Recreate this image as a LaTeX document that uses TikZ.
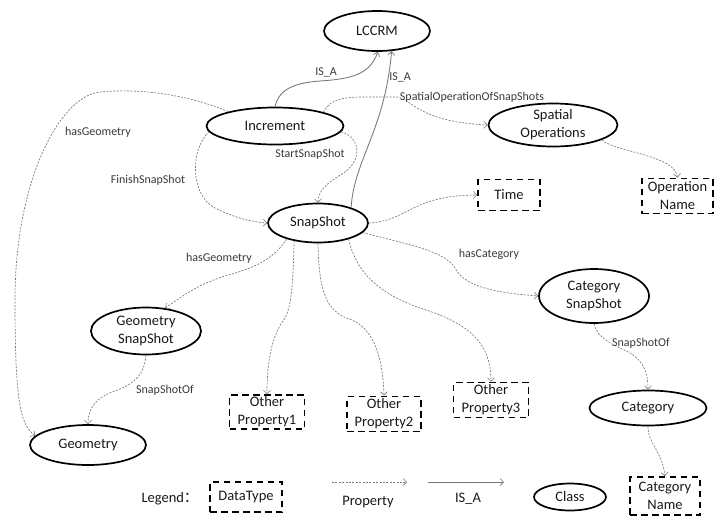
\documentclass[tikz,border=0pt]{standalone}
\usepackage{fontspec}
\setmainfont{Carlito}
\newfontfamily\cjk{Noto Sans CJK SC}
\usetikzlibrary{shapes.geometric,arrows.meta}
\definecolor{edgegray}{HTML}{777777}
\definecolor{labgray}{HTML}{3A3A3A}
\tikzset{
  cls/.style={ellipse, draw=black, line width=1.7pt, inner sep=0pt, align=center,
    font=\fontsize{14.5}{18}\selectfont, text=black!90},
  dtype/.style={rectangle, draw=black, line width=1.7pt, dash pattern=on 6.5pt off 4.5pt,
    inner sep=0pt, align=center, font=\fontsize{14.5}{18}\selectfont, text=black!90},
  prop/.style={draw=edgegray, line width=0.65pt, dash pattern=on 2pt off 1.4pt,
    -{Straight Barb[length=3.5pt,width=7pt,line width=0.6pt]}},
  isa/.style={draw=edgegray, line width=0.85pt,
    -{Straight Barb[length=3.5pt,width=7pt,line width=0.7pt]}},
  elab/.style={font=\fontsize{12}{14}\selectfont, text=labgray, inner sep=0pt},
  leglab/.style={font=\fontsize{14.5}{18}\selectfont, text=black!90, inner sep=0pt},
}
\begin{document}
\begin{tikzpicture}[x=1pt,y=1pt]
\useasboundingbox[fill=white] (0,0) rectangle (716,-515);
% class nodes
\node[cls, minimum width=106pt, minimum height=40pt] (lccrm) at (377,-31) {LCCRM};
\node[cls, minimum width=137pt, minimum height=37pt] (inc) at (275,-126) {Increment};
\node[cls, minimum width=129pt, minimum height=40pt] (spat) at (553,-125) {Spatial\\Operations};
\node[cls, minimum width=100pt, minimum height=39pt] (snap) at (318,-223) {SnapShot};
\node[cls, minimum width=110pt, minimum height=47pt] (gsnap) at (146,-331) {Geometry\\SnapShot};
\node[cls, minimum width=116pt, minimum height=40pt] (geo) at (88,-445) {Geometry};
\node[cls, minimum width=110pt, minimum height=54pt] (csnap) at (594,-296) {Category\\SnapShot};
\node[cls, minimum width=117pt, minimum height=35pt] (cat) at (648,-408) {Category};
% datatype nodes
\node[dtype, minimum width=62pt, minimum height=31pt] (time) at (509,-195) {Time};
\node[dtype, minimum width=71pt, minimum height=35pt] (opname) at (677.5,-196) {Operation\\Name};
\node[dtype, minimum width=75pt, minimum height=34pt] (op1) at (267,-412) {Other\\Property1};
\node[dtype, minimum width=74pt, minimum height=35pt] (op2) at (384,-414) {Other\\Property2};
\node[dtype, minimum width=75pt, minimum height=35pt] (op3) at (491,-400) {Other\\Property3};
\node[dtype, minimum width=70pt, minimum height=38pt] (catname) at (665,-496) {Category\\Name};
% IS_A connectors
\draw[isa] (inc.north) .. controls (278,-92) and (290,-83) .. (320,-81)
  .. controls (350,-79) and (370,-75) .. (lccrm.-88);
\draw[isa] (snap.25) .. controls (354,-160) and (385,-130) .. (lccrm.-54);
\node[elab] (l1) at (326,-72) {IS\_A};
\node[elab] (l2) at (400,-77) {IS\_A};
% property connectors
\draw[prop] (inc.16) .. controls (330,-100) and (340,-97) .. (365,-97) -- (398,-97)
  .. controls (412,-100) and (420,-122) .. (spat.west);
\node[elab] (l3) at (472,-97) {SpatialOperationOfSnapShots};
\draw[prop] (inc.-5) .. controls (362,-138) and (362,-162) .. (342,-174)
  .. controls (325,-184) and (318,-192) .. (snap.north);
\node[elab] (l4) at (310,-154) {StartSnapShot};
\draw[prop] (inc.185) .. controls (190,-150) and (190,-195) .. (215,-208)
  .. controls (235,-218) and (252,-222) .. (snap.west);
\node[elab] (l5) at (148,-180) {FinishSnapShot};
\draw[prop] (inc.163) .. controls (190,-95) and (140,-88) .. (100,-92)
  .. controls (60,-96) and (15,-180) .. (15,-300)
  .. controls (15,-400) and (20,-425) .. (geo.170);
\node[elab] (l6) at (98,-132) {hasGeometry};
\draw[prop] (spat.-17) .. controls (615,-152) and (675,-155) .. (opname.north);
\draw[prop] (snap.east) .. controls (408,-221) and (412,-195) .. (time.west);
\draw[prop] (snap.-153) .. controls (275,-258) and (255,-268) .. (225,-276)
  .. controls (200,-284) and (188,-292) .. (gsnap.50);
\node[elab] (l7) at (219,-258) {hasGeometry};
\draw[prop] (snap.-143) .. controls (293,-280) and (292,-305) .. (285,-318)
  .. controls (272,-335) and (267,-360) .. (op1.north);
\draw[prop] (snap.south) .. controls (319,-290) and (325,-312) .. (352,-320)
  .. controls (375,-330) and (383,-360) .. (op2.north);
\draw[prop] (snap.-28) .. controls (356,-270) and (375,-292) .. (420,-308)
  .. controls (465,-322) and (491,-340) .. (op3.north);
\draw[prop] (snap.-12) .. controls (400,-243) and (445,-250) .. (455,-268)
  .. controls (465,-288) and (500,-293) .. (csnap.west);
\node[elab] (l8) at (489,-254) {hasCategory};
\draw[prop] (gsnap.south) .. controls (144,-378) and (130,-386) .. (112,-392)
  .. controls (92,-400) and (88,-412) .. (geo.north);
\node[elab] (l9) at (165,-390) {SnapShotOf};
\draw[prop] (csnap.south) .. controls (598,-340) and (615,-345) .. (630,-353)
  .. controls (645,-362) and (648,-375) .. (cat.north);
\node[elab] (l10) at (641,-343) {SnapShotOf};
\draw[prop] (cat.south) .. controls (648,-445) and (662,-450) .. (catname.north);
% legend
\node[leglab] (legend) at (170,-499) {Legend{\cjk ：}};
\node[dtype, minimum width=72pt, minimum height=30pt] (dt) at (246,-497) {DataType};
\coordinate (pa) at (332,-482);
\coordinate (pb) at (407,-482);
\draw[prop] (pa) -- (pb);
\node[leglab] (plab) at (368,-502) {Property};
\coordinate (ia) at (428,-482);
\coordinate (ib) at (504,-482);
\draw[isa] (ia) -- (ib);
\node[leglab] (ilab) at (468,-499) {IS\_A};
\node[cls, minimum width=72pt, minimum height=27pt] (class) at (570,-497) {Class};
\end{tikzpicture}
\end{document}
